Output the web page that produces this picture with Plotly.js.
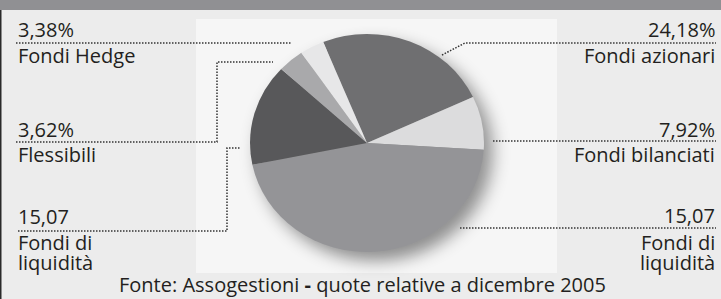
<!DOCTYPE html>
<html>
<head>
<meta charset="utf-8">
<script src="https://cdn.plot.ly/plotly-3.0.1.min.js"></script>
<style>
html,body{margin:0;padding:0;background:#ececec;}
#chart{width:721px;height:299px;}
.pielayer .trace{filter:drop-shadow(8px 9px 8px rgba(0,0,0,0.42));}
.pielayer{transform:translate(367px,143px) scale(1.035,0.965) translate(-367px,-143px);}
</style>
</head>
<body>
<div id="chart"></div>
<script>
// Slice data (clockwise from the top-left edge of "Fondi azionari")
const sliceLabels = ['Fondi azionari','Fondi bilanciati','Fondi obbligazionari','Fondi di liquidità','Flessibili','Fondi Hedge'];
const sliceValues = [24.18, 7.92, 45.83, 15.07, 3.62, 3.38];
const sliceColors = ['#6f6f71','#dcdcdd','#949497','#58585a','#a9a9ab','#e7e7e8'];

// Callout texts as printed
const leftValues  = ['3,38%', '3,62%', '15,07'];
const leftNames   = [['Fondi Hedge'], ['Flessibili'], ['Fondi di','liquidità']];
const rightValues = ['24,18%', '7,92%', '15,07'];
const rightNames  = [['Fondi azionari'], ['Fondi bilanciati'], ['Fondi di','liquidità']];
const sourceText  = 'Fonte: Assogestioni <b>-</b> quote relative a dicembre 2005';

const W = 721, H = 299;
const X = p => p / W;
const Y = p => 1 - p / H;
const FS = 20;
const font = {family: 'Open Sans, Noto Sans, sans-serif', size: FS, color: '#231f20'};

function txt(text, x, baseline, anchor) {
  return {text: text, x: X(x), y: Y(baseline - 0.39 * FS), xref: 'paper', yref: 'paper',
          xanchor: anchor, yanchor: 'middle', showarrow: false, font: font, align: anchor,
          borderpad: 0};
}

const annotations = [];
// left side
const lValBase = [37.5, 137, 224];
const lNameBase = [[63], [162], [250, 270]];
leftValues.forEach((v, i) => {
  annotations.push(txt(v, 17, lValBase[i], 'left'));
  leftNames[i].forEach((n, j) => annotations.push(txt(n, 17, lNameBase[i][j], 'left')));
});
// right side
const rValBase = [37.5, 137, 223];
const rNameBase = [[63], [162], [250, 270]];
rightValues.forEach((v, i) => {
  annotations.push(txt(v, 716, rValBase[i], 'right'));
  rightNames[i].forEach((n, j) => annotations.push(txt(n, 716, rNameBase[i][j], 'right')));
});
annotations.push(txt(sourceText, 362, 292.5, 'center'));

function path(pts) {
  return pts.map((p, i) => (i ? 'L' : 'M') + X(p[0]).toFixed(5) + ',' + Y(p[1]).toFixed(5)).join(' ');
}
const dotLine = {color: '#333333', width: 1.5, dash: '1.5px,1.5px'};
const leaders = [
  [[16,43],[292,43]],
  [[16,142],[217,142],[217,62],[273,62]],
  [[18,231],[227,231],[227,148],[240,148]],
  [[442,55],[465,43],[716,43]],
  [[493,141],[716,141]],
  [[460,228],[716,228]]
];

const shapes = [
  {type:'rect', xref:'paper', yref:'paper', x0:0, x1:1, y0:Y(10), y1:1, fillcolor:'#909093', line:{width:0}, layer:'below'},
  {type:'rect', xref:'paper', yref:'paper', x0:0, x1:X(1.5), y0:0, y1:Y(10), fillcolor:'#2a2a2a', line:{width:0}, layer:'below'},
  {type:'rect', xref:'paper', yref:'paper', x0:X(196), x1:X(557), y0:Y(273), y1:Y(19), fillcolor:'#f6f6f6', line:{width:0}, layer:'below'}
];
leaders.forEach(l => shapes.push({type:'path', xref:'paper', yref:'paper', path:path(l), line:dotLine, layer:'above'}));

const cx = 367, cy = 143, r = 113;
const data = [{
  type: 'pie',
  labels: sliceLabels,
  values: sliceValues,
  sort: false,
  direction: 'clockwise',
  rotation: -22,
  marker: {colors: sliceColors, line: {width: 0}},
  textinfo: 'none',
  hoverinfo: 'none',
  showlegend: false,
  domain: {x: [X(cx - r), X(cx + r)], y: [Y(cy + r), Y(cy - r)]}
}];

const layout = {
  width: W, height: H,
  margin: {l:0, r:0, t:0, b:0},
  paper_bgcolor: '#ececec',
  plot_bgcolor: '#ececec',
  showlegend: false,
  shapes: shapes,
  annotations: annotations
};

Plotly.newPlot('chart', data, layout, {staticPlot: true, displayModeBar: false});
</script>
</body>
</html>
